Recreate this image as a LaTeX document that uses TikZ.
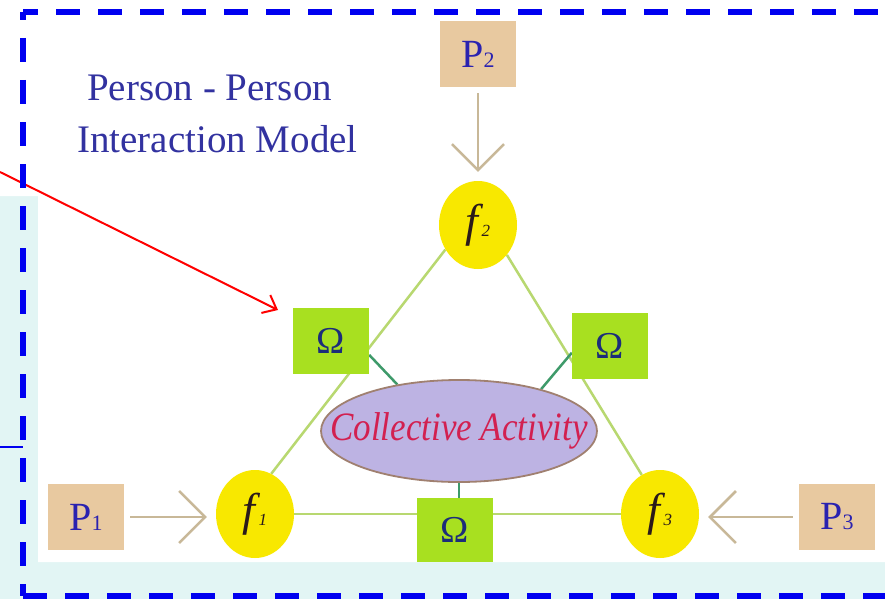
\documentclass[tikz,border=0pt]{standalone}
\usepackage{fontspec}
\setmainfont{Liberation Serif}
\usepackage{graphicx}
\usetikzlibrary{shapes.geometric,arrows.meta,calc}
\pgfdeclarelayer{back}
\pgfdeclarelayer{edges}
\pgfsetlayers{back,edges,main}
\definecolor{bgcyan}{HTML}{E2F5F4}
\definecolor{borderblue}{HTML}{0000F0}
\definecolor{titleblue}{HTML}{3232A0}
\definecolor{boxtan}{HTML}{E8C9A0}
\definecolor{pblue}{HTML}{2A22B0}
\definecolor{fyellow}{HTML}{F8E800}
\definecolor{omgreen}{HTML}{A8E020}
\definecolor{omblue}{HTML}{1C2D7A}
\definecolor{lgreen}{HTML}{B8D870}
\definecolor{dgreen}{HTML}{3E9A6A}
\definecolor{arrtan}{HTML}{C8B898}
\definecolor{lav}{HTML}{BDB3E3}
\definecolor{ellborder}{HTML}{A08070}
\definecolor{crimson}{HTML}{D22050}
\definecolor{fdark}{HTML}{2A1A1A}
\begin{document}
\begin{tikzpicture}[x=1pt,y=-1pt,
  pbox/.style={fill=boxtan, minimum width=76pt, minimum height=66pt, inner sep=0pt, text=pblue, font=\fontsize{40}{40}\selectfont},
  fnode/.style={ellipse, fill=fyellow, minimum width=78pt, minimum height=88pt, inner sep=0pt, text=fdark, font=\itshape\fontsize{46}{46}\selectfont},
  obox/.style={fill=omgreen, minimum width=76pt, minimum height=66pt, inner sep=0pt, text=omblue, font=\fontsize{38}{38}\selectfont},
  side/.style={draw=lgreen, line width=2.5pt},
  link/.style={draw=dgreen, line width=2.5pt},
  feed/.style={draw=arrtan, line width=2.5pt, -{Straight Barb[length=26pt,width=52pt]}, shorten <=6pt, shorten >=9pt},
  title/.style={anchor=base west, inner sep=0pt, text=titleblue, font=\fontsize{39}{39}\selectfont},
  dashline/.style={draw=borderblue, line width=6pt, dash pattern=on 24pt off 18pt}
]
\useasboundingbox (0,0) rectangle (885,599);
\begin{pgfonlayer}{back}
\fill[bgcyan] (0,0) rectangle (885,599);
\fill[white] (0,0) -- (885,0) -- (885,562) -- (38,562) -- (38,196) -- (0,196) -- cycle;
\end{pgfonlayer}

% title
\node[title] (t1) at (87,100) {Person - Person};
\node[title] (t2) at (77,152) {Interaction Model};

% persons
\node[pbox] (p2) at (478,54) {P{\fontsize{22}{22}\selectfont 2}};
\node[pbox] (p1) at (86,517) {P{\fontsize{22}{22}\selectfont 1}};
\node[pbox] (p3) at (837,517) {P{\fontsize{22}{22}\selectfont 3}};

% functions
\node[fnode] (f2) at (478,225) {f\kern3pt{\fontsize{17}{17}\selectfont 2}};
\node[fnode] (f1) at (255,514) {f\kern3pt{\fontsize{17}{17}\selectfont 1}};
\node[fnode] (f3) at (660,514) {f\kern3pt{\fontsize{17}{17}\selectfont 3}};

% omegas
\node[obox] (oL) at (331,341) {Ω};
\node[obox] (oR) at (610,346) {Ω};
\node[obox, minimum height=64pt] (oB) at (455,530) {Ω};

% collective activity
\node[ellipse, fill=lav, draw=ellborder, line width=1.8pt, minimum width=276pt, minimum height=102pt, inner sep=0pt, text=crimson, font=\itshape\fontsize{35}{35}\selectfont] (coll) at (459,431) {\makebox[0pt]{\scalebox{1}[1.15]{Collective Activity}}};

\begin{pgfonlayer}{edges}
\draw[side] (f2.217) -- (f1.68);
\draw[side] (f2.314) -- (f3.115);
\draw[side] (f1.east) -- (f3.west);
\draw[link] (oL.340) -- (coll.143);
\draw[link] (oR.190) -- (coll.27);
\draw[link] (coll.south) -- (coll.south |- oB.north);
\end{pgfonlayer}

% feeds
\draw[feed] (p2) -- (f2);
\draw[feed] (p1.east) -- (p1.east -| f1.west);
\draw[feed] (p3.west) -- (p3.west -| f3.east);

% red pointer
\coordinate (rs) at (0,172);
\coordinate (re) at (278,310);
\draw[red, line width=2pt, -{Straight Barb[length=12pt,width=20pt]}] (rs) -- (re);

% blue dashed frame
\draw[dashline, dash phase=9pt] (23,12) -- (890,12);
\draw[dashline, dash phase=16pt] (23,12) -- (23,596);
\draw[dashline] (23,596) -- (890,596);
\coordinate (bl) at (0,447);
\coordinate (br) at (23,447);
\draw[borderblue, line width=2.5pt] (bl) -- (br);
\end{tikzpicture}
\end{document}
